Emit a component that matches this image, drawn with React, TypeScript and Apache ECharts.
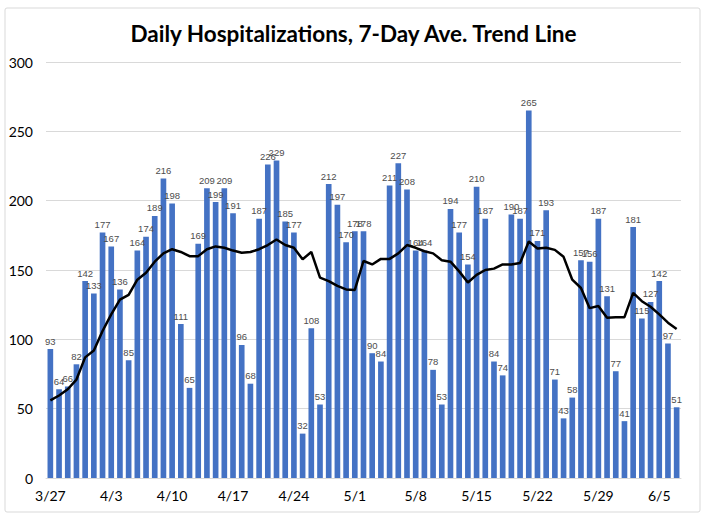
import React, { useEffect, useRef } from "react";
import * as echarts from "echarts";

const startMonth = 3;
const startDay = 27;
const monthLengths: Record<number, number> = { 3: 31, 4: 30, 5: 31, 6: 30 };

const dailyHospitalizations = [
  93, 64, 66, 82, 142, 133, 177, 167, 136, 85, 164, 174, 189, 216, 198, 111, 65, 169, 209, 199,
  209, 191, 96, 68, 187, 226, 229, 185, 177, 32, 108, 53, 212, 197, 170, 178, 178, 90, 84, 211,
  227, 208, 164, 164, 78, 53, 194, 177, 154, 210, 187, 84, 74, 190, 187, 265, 171, 193, 71, 43,
  58, 157, 156, 187, 131, 77, 41, 181, 115, 127, 142, 97, 51,
];

const sevenDayAverage = [
  56, 59.5, 64, 71, 87, 92, 106, 118, 128.6, 132, 143, 148, 156, 162, 165, 163, 160, 160, 165, 167,
  166, 164, 162.5, 163, 165, 168, 172, 168, 166, 157.7, 163, 144.5, 142, 138.5, 136, 135.6, 156.5, 154, 158, 158,
  162, 168, 166, 163.5, 162, 157, 156, 149, 141, 146.5, 150, 151, 154, 154, 155, 170.5, 165.5, 166, 164.5, 159.5,
  143, 137, 122.5, 124, 115.5, 116, 116, 133.5, 127.5, 123.5, 118, 112, 107.5,
];

const yTicks = [0, 50, 100, 150, 200, 250, 300];

function buildDates(n: number): string[] {
  const out: string[] = [];
  let m = startMonth;
  let d = startDay;
  for (let i = 0; i < n; i++) {
    out.push(`${m}/${d}`);
    d++;
    if (d > monthLengths[m]) {
      d = 1;
      m++;
    }
  }
  return out;
}

const dates = buildDates(dailyHospitalizations.length);

export default function App() {
  const ref = useRef<HTMLDivElement>(null);
  useEffect(() => {
    if (!ref.current) return;
    const chart = echarts.init(ref.current, undefined, { renderer: "svg" });
    chart.setOption({
      animation: false,
      backgroundColor: "#ffffff",
      title: {
        text: "Daily Hospitalizations, 7-Day Ave. Trend Line",
        left: "center",
        top: 17,
        textStyle: {
          fontFamily: "Lato",
          fontWeight: "bold",
          fontSize: 22.5,
          color: "#000000",
        },
      },
      graphic: [
        {
          type: "rect",
          shape: { x: 5, y: 8, width: 695, height: 504, r: 2 },
          style: { fill: "none", stroke: "#d9d9d9", lineWidth: 1 },
          silent: true,
        },
      ],
      grid: { left: 46, right: 26, top: 62, bottom: 41, containLabel: false },
      xAxis: {
        type: "category",
        data: dates,
        axisTick: { show: false },
        axisLine: { show: true, lineStyle: { color: "#d9d9d9" } },
        axisLabel: {
          interval: 6,
          margin: 10,
          fontFamily: "Lato",
          fontSize: 14,
          color: "#000000",
        },
      },
      yAxis: {
        type: "value",
        min: yTicks[0],
        max: yTicks[yTicks.length - 1],
        interval: 50,
        axisLine: { show: false },
        axisTick: { show: false },
        splitLine: { lineStyle: { color: "#d9d9d9", width: 1 } },
        axisLabel: {
          fontFamily: "Lato",
          fontSize: 14,
          color: "#000000",
          margin: 13,
        },
      },
      series: [
        {
          type: "bar",
          data: dailyHospitalizations,
          barCategoryGap: "35%",
          itemStyle: { color: "#4472c4" },
          label: {
            show: true,
            position: "top",
            distance: 3,
            fontFamily: "Liberation Sans",
            fontSize: 9.5,
            color: "#4d4d4d",
          },
          z: 2,
        },
        {
          type: "line",
          data: sevenDayAverage,
          symbol: "none",
          lineStyle: { color: "#000000", width: 2.5 },
          z: 3,
        },
      ],
    });
    return () => chart.dispose();
  }, []);
  return (
    <div
      ref={ref}
      style={{ position: "fixed", left: 0, top: 0, width: 707, height: 519 }}
    />
  );
}
